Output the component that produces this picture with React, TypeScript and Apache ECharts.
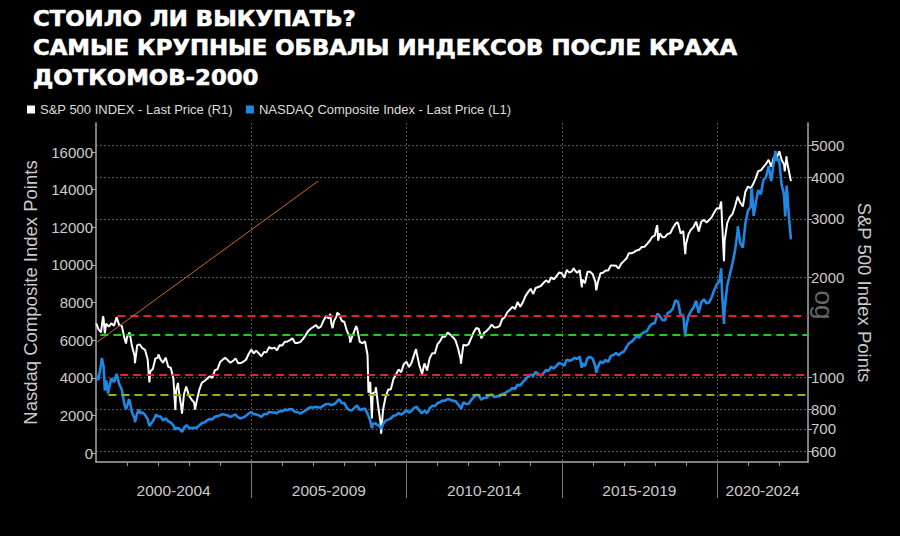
import React, { useEffect, useRef } from "react";
import * as echarts from "echarts";

// ---------- DATA ----------
const START_YEAR = 2000;
const X_MIN = 2000;
const X_MAX = 2022.93;

const TITLE_LINES = [
  "СТОИЛО ЛИ ВЫКУПАТЬ?",
  "САМЫЕ КРУПНЫЕ ОБВАЛЫ ИНДЕКСОВ ПОСЛЕ КРАХА",
  "ДОТКОМОВ-2000",
];

const SPX_NAME = "S&P 500 INDEX - Last Price (R1)";
const NDX_NAME = "NASDAQ Composite Index - Last Price (L1)";
const NDX_AXIS_NAME = "Nasdaq Composite Index Points";
const SPX_AXIS_NAME = "S&P 500 Index Points";

const PERIOD_LABELS = ["2000-2004", "2005-2009", "2010-2014", "2015-2019", "2020-2024"];
const PERIOD_LABEL_POS = [2002.5, 2007.5, 2012.5, 2017.5, 2021.47];
const PERIOD_BOUNDS = [2005, 2010, 2015, 2020];
const YEAR_TICKS = [
  2001, 2002, 2003, 2004, 2006, 2007, 2008, 2009, 2011, 2012, 2013, 2014,
  2016, 2017, 2018, 2019, 2021, 2022,
];

const NDX_TICKS = [0, 2000, 4000, 6000, 8000, 10000, 12000, 14000, 16000];
const SPX_TICKS = [600, 700, 800, 1000, 2000, 3000, 4000, 5000];

// month-end closes, Jan 2000 .. Apr 2022
const SPX_MONTHLY = [
  1394, 1366, 1499, 1452, 1421, 1455, 1431, 1518, 1437, 1429, 1315, 1320,
  1366, 1240, 1160, 1249, 1256, 1224, 1211, 1134, 1041, 1060, 1139, 1148,
  1130, 1107, 1147, 1077, 1067, 990, 912, 916, 815, 886, 936, 880,
  856, 841, 848, 917, 964, 975, 990, 1008, 996, 1051, 1058, 1112,
  1131, 1145, 1126, 1107, 1121, 1141, 1102, 1104, 1115, 1130, 1174, 1212,
  1181, 1204, 1181, 1157, 1192, 1191, 1234, 1220, 1229, 1207, 1249, 1248,
  1280, 1281, 1295, 1311, 1270, 1270, 1277, 1304, 1336, 1378, 1401, 1418,
  1438, 1407, 1421, 1482, 1531, 1503, 1455, 1474, 1527, 1549, 1481, 1468,
  1379, 1331, 1323, 1386, 1400, 1280, 1267, 1283, 1166, 969, 896, 903,
  826, 735, 798, 873, 919, 919, 987, 1021, 1057, 1036, 1096, 1115,
  1074, 1104, 1169, 1187, 1089, 1031, 1102, 1049, 1141, 1183, 1181, 1258,
  1286, 1327, 1326, 1364, 1345, 1321, 1292, 1219, 1131, 1253, 1247, 1258,
  1312, 1366, 1408, 1398, 1310, 1362, 1379, 1407, 1441, 1412, 1416, 1426,
  1498, 1515, 1569, 1598, 1631, 1606, 1686, 1633, 1682, 1757, 1806, 1848,
  1783, 1859, 1872, 1884, 1924, 1960, 1931, 2003, 1972, 2018, 2068, 2059,
  1995, 2105, 2068, 2086, 2107, 2063, 2104, 1972, 1920, 2079, 2080, 2044,
  1940, 1932, 2060, 2065, 2097, 2099, 2174, 2171, 2168, 2126, 2199, 2239,
  2279, 2364, 2363, 2384, 2412, 2423, 2470, 2472, 2519, 2575, 2648, 2674,
  2824, 2714, 2641, 2648, 2705, 2718, 2816, 2902, 2914, 2712, 2760, 2507,
  2704, 2784, 2834, 2946, 2752, 2942, 2980, 2926, 2977, 3038, 3141, 3231,
  3226, 2954, 2585, 2912, 3044, 3100, 3271, 3500, 3363, 3270, 3622, 3756,
  3714, 3811, 3973, 4181, 4204, 4298, 4395, 4523, 4308, 4605, 4567, 4766,
  4516, 4374, 4530, 4132,
];

const NDX_MONTHLY = [
  3940, 4697, 4573, 3861, 3401, 3966, 3767, 4206, 3673, 3370, 2598, 2471,
  2773, 2152, 1840, 2116, 2110, 2161, 2027, 1805, 1499, 1690, 1931, 1950,
  1934, 1731, 1845, 1688, 1616, 1463, 1328, 1315, 1172, 1330, 1479, 1336,
  1321, 1338, 1341, 1464, 1596, 1623, 1735, 1810, 1787, 1932, 1960, 2003,
  2066, 2030, 1994, 1920, 1987, 2048, 1887, 1838, 1897, 1975, 2097, 2175,
  2062, 2052, 1999, 1922, 2068, 2057, 2185, 2152, 2152, 2120, 2233, 2205,
  2306, 2281, 2340, 2323, 2179, 2172, 2091, 2184, 2258, 2367, 2432, 2415,
  2464, 2416, 2422, 2525, 2605, 2603, 2546, 2596, 2702, 2859, 2661, 2652,
  2390, 2271, 2279, 2413, 2523, 2293, 2326, 2368, 2092, 1721, 1536, 1577,
  1476, 1378, 1529, 1717, 1774, 1835, 1979, 2009, 2122, 2045, 2145, 2269,
  2147, 2238, 2398, 2461, 2257, 2109, 2255, 2114, 2369, 2507, 2498, 2653,
  2700, 2782, 2781, 2874, 2835, 2774, 2756, 2579, 2415, 2684, 2620, 2605,
  2814, 2967, 3092, 3046, 2827, 2935, 2940, 3067, 3116, 2977, 3010, 3020,
  3142, 3160, 3268, 3329, 3456, 3403, 3626, 3590, 3771, 3920, 4060, 4177,
  4104, 4308, 4199, 4115, 4243, 4408, 4370, 4580, 4493, 4631, 4792, 4736,
  4635, 4964, 4901, 4941, 5070, 4987, 5128, 4777, 4620, 5054, 5109, 5007,
  4614, 4558, 4870, 4775, 4948, 4843, 5162, 5213, 5312, 5189, 5324, 5383,
  5615, 5825, 5912, 6048, 6199, 6140, 6348, 6429, 6496, 6728, 6874, 6903,
  7411, 7273, 7063, 7066, 7442, 7510, 7672, 8110, 8046, 7306, 7331, 6635,
  7282, 7533, 7729, 8095, 7453, 8006, 8175, 7963, 7999, 8292, 8665, 8973,
  9151, 8567, 7700, 8890, 9490, 10059, 10745, 11775, 11168, 10912, 12199, 12888,
  13071, 13192, 13247, 13963, 13749, 14504, 14673, 15259, 14449, 15498, 15538, 15645,
  14240, 13751, 14221, 12335,
];

// intra-month extremes (and the first / last points)
const SPX_EXTREMES: [string, number][] = [
  ["2000-01-03", 1455], ["2000-03-24", 1527], ["2000-04-14", 1356], ["2000-09-01", 1520],
  ["2000-12-20", 1264], ["2001-04-04", 1103], ["2001-09-21", 966], ["2002-01-04", 1172],
  ["2002-07-23", 797], ["2002-08-22", 962], ["2002-10-09", 777], ["2002-11-27", 938],
  ["2003-03-11", 800], ["2007-07-19", 1553], ["2007-08-15", 1407], ["2007-10-09", 1565],
  ["2008-03-10", 1273], ["2008-05-19", 1427], ["2008-10-10", 899], ["2008-11-20", 752],
  ["2009-01-06", 935], ["2009-03-09", 677], ["2010-04-23", 1217], ["2010-07-02", 1022],
  ["2011-04-29", 1364], ["2011-10-03", 1099], ["2015-05-21", 2131], ["2015-08-25", 1868],
  ["2016-02-11", 1829], ["2018-01-26", 2873], ["2018-02-08", 2581], ["2018-09-20", 2931],
  ["2018-12-24", 2351], ["2020-02-19", 3386], ["2020-03-23", 2237], ["2022-01-03", 4797],
  ["2022-03-08", 4171], ["2022-03-29", 4632], ["2022-05-20", 3901],
];

const NDX_EXTREMES: [string, number][] = [
  ["2000-01-03", 4131], ["2000-01-28", 3887], ["2000-03-10", 5049], ["2000-04-14", 3321],
  ["2000-05-23", 3164], ["2000-09-01", 4234], ["2000-12-20", 2333], ["2001-01-24", 2859],
  ["2001-04-04", 1639], ["2001-05-22", 2313], ["2001-09-21", 1423], ["2001-12-05", 2046],
  ["2002-07-23", 1229], ["2002-10-09", 1114], ["2007-10-31", 2859], ["2008-11-20", 1316],
  ["2009-03-09", 1269], ["2010-07-02", 2092], ["2011-10-03", 2335], ["2015-08-24", 4526],
  ["2016-02-11", 4266], ["2018-08-29", 8110], ["2018-12-24", 6193], ["2020-02-19", 9817],
  ["2020-03-23", 6861], ["2020-09-02", 12056], ["2021-02-12", 14095], ["2021-03-08", 12609],
  ["2021-11-19", 16057], ["2022-03-14", 12581], ["2022-05-20", 11354],
];

// drawn horizontal levels (S&P 500 scale) and where each starts
const LEVEL_VALUES = [1530, 1340, 1016, 885];
const LEVEL_STARTS = [2000.69, 2000.14, 2000.78, 2000.4];

// drawn trend line (Nasdaq scale): [year, points]
const TREND_START: [number, number] = [2000.04, 5900];
const TREND_END: [number, number] = [2007.16, 14460];

// ---------- HELPERS ----------
function decimalYear(y: number, m: number, d: number) {
  const t0 = Date.UTC(y, 0, 1);
  const t1 = Date.UTC(y + 1, 0, 1);
  return y + (Date.UTC(y, m, d) - t0) / (t1 - t0);
}
function parseDate(s: string) {
  const [y, m, d] = s.split("-").map(Number);
  return decimalYear(y, m - 1, d);
}
function buildSeries(monthly: number[], extremes: [string, number][]) {
  const pts: [number, number][] = monthly.map((v, i) => {
    const y = START_YEAR + Math.floor(i / 12);
    const m = i % 12;
    const last = new Date(Date.UTC(y, m + 1, 0)).getUTCDate();
    return [decimalYear(y, m, last), v];
  });
  extremes.forEach(([s, v]) => pts.push([parseDate(s), v]));
  pts.sort((a, b) => a[0] - b[0]);
  return pts;
}

const LEVEL_COLORS = ["#e3222c", "#22c922", "#d9273a", "#8cb61e"];

export default function App() {
  const ref = useRef<HTMLDivElement>(null);

  useEffect(() => {
    if (!ref.current) return;
    const chart = echarts.init(ref.current, null, { renderer: "svg" });

    const spx = buildSeries(SPX_MONTHLY, SPX_EXTREMES);
    const ndx = buildSeries(NDX_MONTHLY, NDX_EXTREMES);

    const levelLines = LEVEL_VALUES.map((v, i) => [
      { coord: [LEVEL_STARTS[i], v], lineStyle: { color: LEVEL_COLORS[i], type: [8, 5], width: 2 } },
      { coord: [X_MAX, v] },
    ]);

    const font = "Liberation Sans";
    const plain = (v: number) => String(Math.round(v));

    const option: any = {
      animation: false,
      backgroundColor: "#000",
      textStyle: { fontFamily: font },
      legend: {
        data: [SPX_NAME, NDX_NAME],
        left: 27,
        top: 103,
        padding: 0,
        itemWidth: 8,
        itemHeight: 8,
        itemGap: 13,
        icon: "rect",
        selectedMode: false,
        textStyle: { color: "#ddd", fontSize: 13, fontFamily: font },
      },
      grid: { left: 96, right: 92, top: 123, bottom: 74 },
      xAxis: [
        {
          type: "value",
          position: "bottom",
          min: X_MIN,
          max: X_MAX,
          interval: 5,
          axisLine: { show: true, onZero: false, lineStyle: { color: "#aaa", width: 1.5 } },
          axisTick: { show: true, customValues: PERIOD_BOUNDS, length: 36, lineStyle: { color: "#777" } },
          axisLabel: {
            customValues: PERIOD_LABEL_POS,
            formatter: (v: number) => PERIOD_LABELS[Math.floor((v - X_MIN) / 5)],
            color: "#ccc",
            fontSize: 15.5,
            margin: 20,
            fontFamily: font,
          },
          splitLine: { show: true, lineStyle: { color: "#555", type: [2, 2], width: 1 } },
        },
        {
          type: "value",
          position: "bottom",
          min: X_MIN,
          max: X_MAX,
          axisLine: { show: false, onZero: false },
          axisTick: { show: true, customValues: YEAR_TICKS, length: 4, lineStyle: { color: "#999" } },
          axisLabel: { show: false },
          splitLine: { show: false },
        },
      ],
      yAxis: [
        {
          type: "value",
          position: "left",
          min: -478,
          max: 17542,
          name: NDX_AXIS_NAME,
          nameLocation: "middle",
          nameGap: 55,
          nameTextStyle: { color: "#ccc", fontSize: 18.5, fontFamily: font },
          axisLine: { show: true, onZero: false, lineStyle: { color: "#aaa", width: 1.5 } },
          axisTick: { show: true, customValues: NDX_TICKS, length: 4, lineStyle: { color: "#aaa" } },
          axisLabel: { customValues: NDX_TICKS, formatter: plain, color: "#ccc", fontSize: 15, margin: 3, fontFamily: font },
          splitLine: { show: false },
        },
        {
          type: "log",
          position: "right",
          min: 556,
          max: 5836,
          name: SPX_AXIS_NAME,
          nameLocation: "middle",
          nameRotate: -90,
          nameGap: 43,
          nameTextStyle: { color: "#ccc", fontSize: 18.5, fontFamily: font },
          axisLine: { show: true, onZero: false, lineStyle: { color: "#aaa", width: 1.5 } },
          axisTick: { show: true, customValues: SPX_TICKS, length: 4, lineStyle: { color: "#aaa" } },
          axisLabel: { customValues: SPX_TICKS, formatter: plain, color: "#ccc", fontSize: 15, margin: 3, fontFamily: font },
          splitLine: { show: true, lineStyle: { color: "#555", type: [2, 2], width: 1 } },
        },
      ],
      series: [
        {
          name: SPX_NAME,
          type: "line",
          yAxisIndex: 1,
          data: spx,
          symbol: "none",
          showSymbol: false,
          lineStyle: { color: "#ffffff", width: 2 },
          itemStyle: { color: "#ffffff" },
          z: 3,
          markLine: {
            silent: true,
            symbol: ["none", "none"],
            label: { show: false },
            data: levelLines,
          },
        },
        {
          name: NDX_NAME,
          type: "line",
          yAxisIndex: 0,
          data: ndx,
          symbol: "none",
          showSymbol: false,
          lineStyle: { color: "#1e88e5", width: 2.6 },
          itemStyle: { color: "#1e88e5" },
          z: 4,
          markLine: {
            silent: true,
            symbol: ["none", "none"],
            label: { show: false },
            data: [
              [
                { coord: TREND_START, lineStyle: { color: "#c8692a", type: "solid", width: 1 } },
                { coord: TREND_END },
              ],
            ],
          },
        },
      ],
      graphic: [
        ...TITLE_LINES.map((t, i) => ({
          type: "text",
          x: 33,
          y: 18.5 + i * 29.5,
          scaleX: 1.085,
          style: {
            text: t,
            fill: "#ffffff",
            stroke: "#ffffff",
            lineWidth: 0.6,
            font: 'bold 21px "DejaVu Sans"',
            textAlign: "left",
            textVerticalAlign: "middle",
          },
        })),
        {
          type: "text",
          x: 824,
          y: 305,
          rotation: -Math.PI / 2,
          style: {
            text: "og",
            fill: "#666",
            font: '26px "Liberation Sans"',
            textAlign: "center",
            textVerticalAlign: "middle",
          },
        },
      ],
    };

    chart.setOption(option);
    return () => chart.dispose();
  }, []);

  return (
    <div
      ref={ref}
      style={{ position: "fixed", left: 0, top: 0, width: 900, height: 536, background: "#000" }}
    />
  );
}
